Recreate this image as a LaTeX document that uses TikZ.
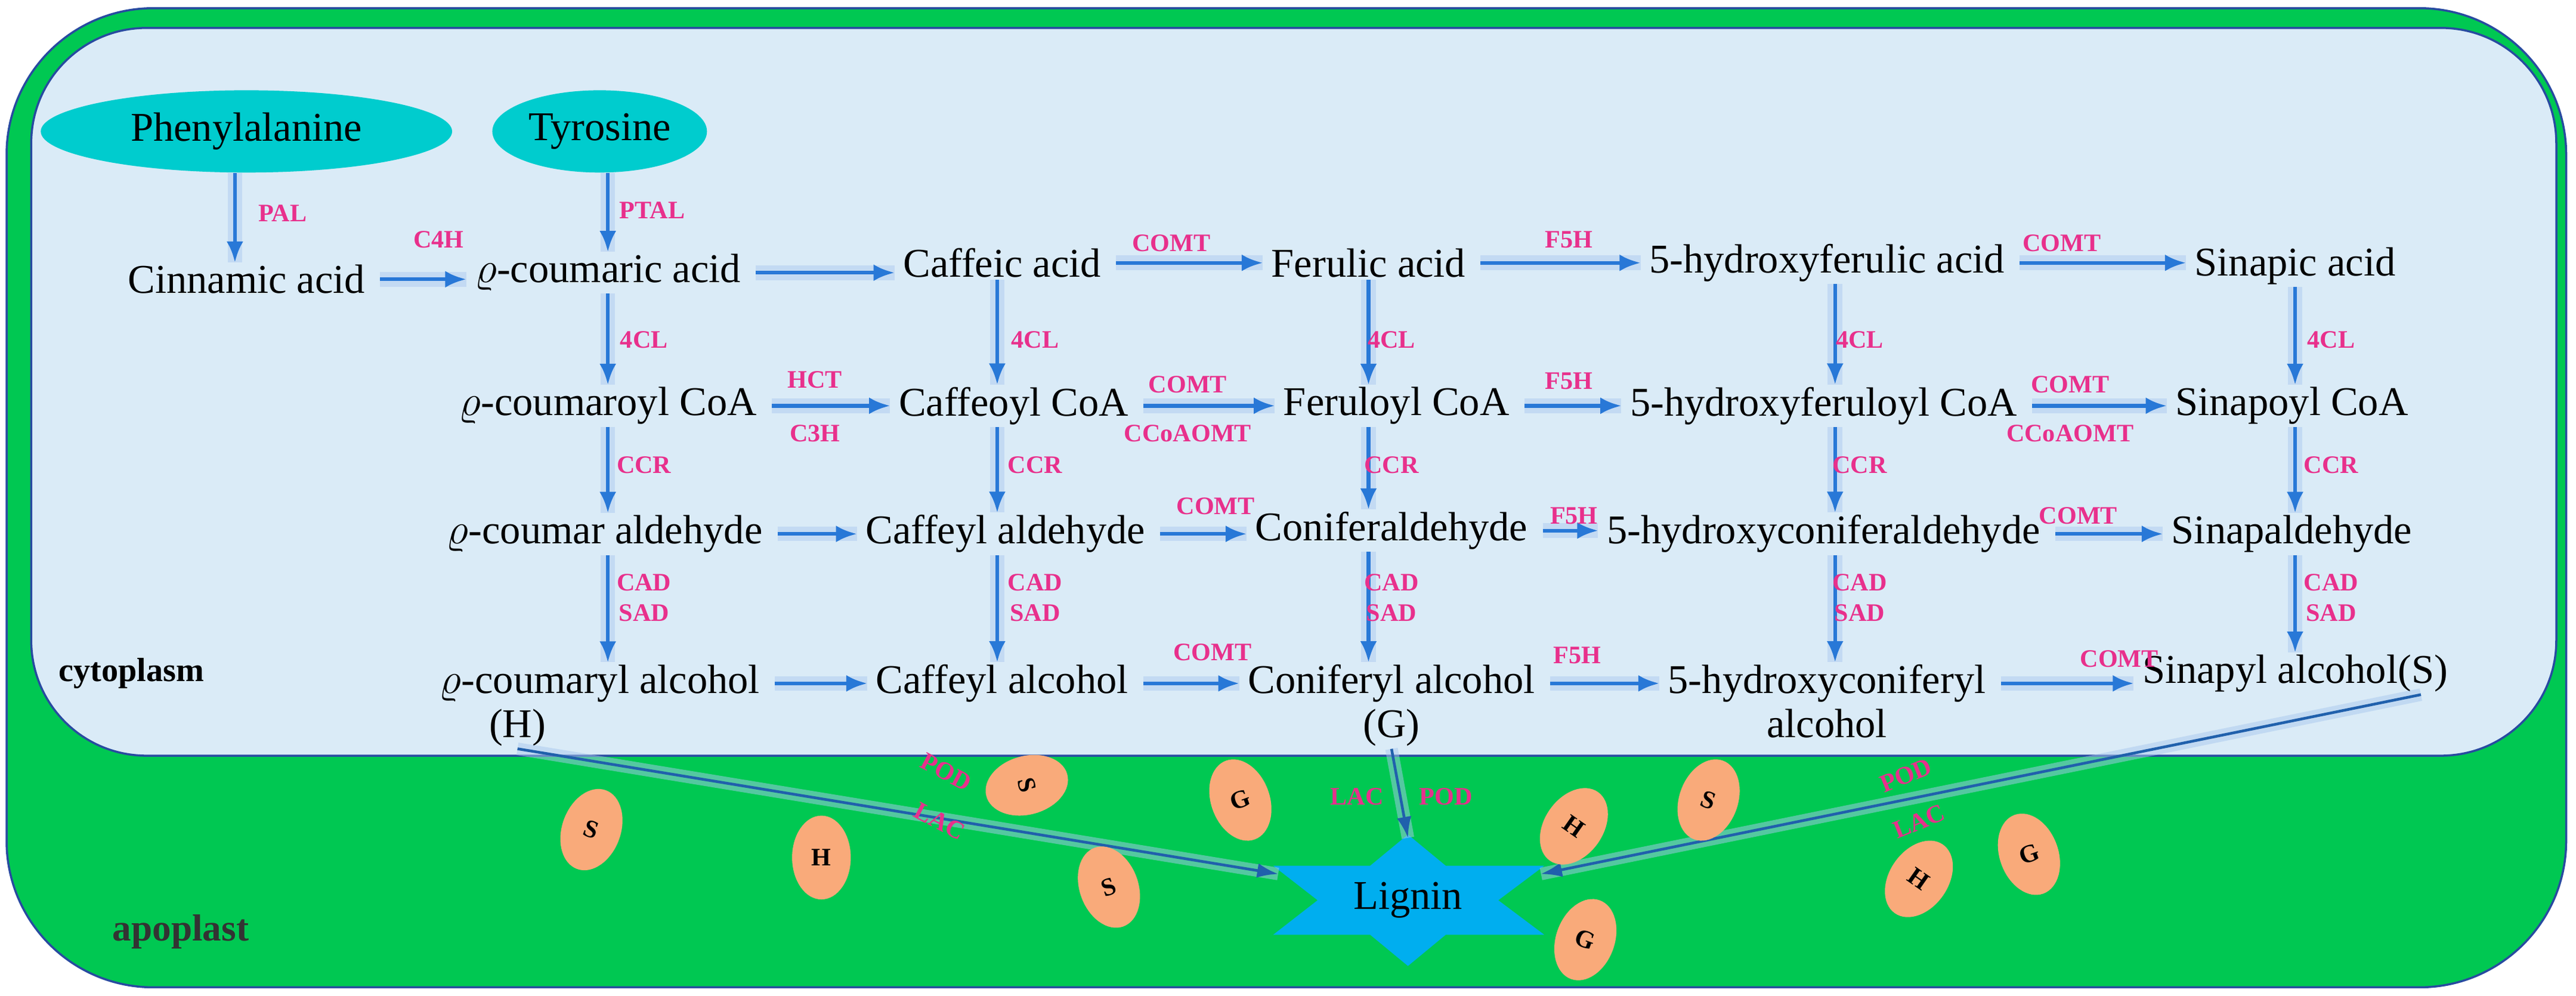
\documentclass[tikz,border=0pt]{standalone}
\usepackage{fontspec}
\setmainfont{Liberation Serif}
\usetikzlibrary{arrows.meta,shapes.geometric,positioning}
\definecolor{apogreen}{RGB}{0,200,82}
\definecolor{cytoblue}{RGB}{218,235,247}
\definecolor{rim}{RGB}{40,75,160}
\definecolor{aacyan}{RGB}{0,204,206}
\definecolor{enz}{RGB}{232,48,140}
\definecolor{flowblue}{RGB}{40,120,215}
\definecolor{peach}{RGB}{249,170,122}
\definecolor{stary}{RGB}{0,174,239}
\tikzset{
  met/.style={font=\fontsize{19.5}{22}\selectfont, inner sep=1pt, align=center},
  amino/.style={met, ellipse, fill=aacyan, minimum height=1.38cm},
  enzyme/.style={font=\fontsize{12}{14.5}\selectfont\bfseries, text=enz, inner sep=1pt, align=center},
  flow/.style={-{Latex[length=10pt,width=8pt]}, flowblue, line width=1.8pt,
    preaction={draw, line width=7pt, flowblue!35, opacity=0.6, -{}}},
  toward/.style={-{Latex[length=10pt,width=7pt]}, flowblue!80!black, line width=1.3pt,
    preaction={draw, line width=6pt, flowblue!40, opacity=0.5, -{}}},
  unit/.style={ellipse, fill=peach, minimum width=28pt, minimum height=40pt, inner sep=0pt,
    font=\fontsize{12}{13}\selectfont\bfseries}
}
\begin{document}
\begin{tikzpicture}[x=0.02755cm, y=-0.02755cm]
\useasboundingbox (0,0) rectangle (1568,606);

% compartments
\draw [rim, line width=1pt, fill=apogreen, rounded corners=70pt] (4,5) rectangle (1562,601);
\draw [rim, line width=1pt, fill=cytoblue, rounded corners=55pt] (19,17) rectangle (1556,460);

\node [font=\fontsize{16}{18}\selectfont\bfseries] at (80,410) {cytoplasm};
\node [font=\fontsize{18}{20}\selectfont\bfseries, text=black!80] at (110,567) {apoplast};

% amino acids
\node [amino, minimum width=6.9cm] (phe) at (150,80) {Phenylalanine};
\node [amino, minimum width=3.6cm] (tyr) at (365,80) {Tyrosine};

% acids
\node [met] (cin) at (150,170) {Cinnamic acid};
\node [met] (cou) at (370,166) {$\varrho$-coumaric acid};
\node [met] (caf) at (610,160) {Caffeic acid};
\node [met] (fer) at (833,160) {Ferulic acid};
\node [met] (hfer) at (1112,160) {5-hydroxyferulic acid};
\node [met] (sin) at (1397,162) {Sinapic acid};

% CoA esters
\node [met] (couc) at (370,247) {$\varrho$-coumaroyl CoA};
\node [met] (cafc) at (617,247) {Caffeoyl CoA};
\node [met] (ferc) at (850,247) {Feruloyl CoA};
\node [met] (hferc) at (1110,247) {5-hydroxyferuloyl CoA};
\node [met] (sinc) at (1395,247) {Sinapoyl CoA};

% aldehydes
\node [met] (coua) at (368,325) {$\varrho$-coumar aldehyde};
\node [met] (cafa) at (612,325) {Caffeyl aldehyde};
\node [met] (fera) at (847,323) {Coniferaldehyde};
\node [met] (hfera) at (1110,325) {5-hydroxyconiferaldehyde};
\node [met] (sina) at (1395,325) {Sinapaldehyde};

% alcohols
\node [met] (coul) at (365,416) {$\varrho$-coumaryl alcohol};
\node [met] (cafl) at (610,416) {Caffeyl alcohol};
\node [met] (ferl) at (847,416) {Coniferyl alcohol};
\node [met] (hferl) at (1112,416) {5-hydroxyconiferyl};
\node [met] (sinl) at (1397,410) {Sinapyl alcohol(S)};
\node [met] (hunit) at (315,443) {(H)};
\node [met, below=1pt of ferl] (gunit) {(G)};
\node [met, below=1pt of hferl] (hfer2) {alcohol};

% vertical steps
\foreach \a/\b/\x in {phe/cin/143, tyr/cou/370, cou/couc/370, caf/cafc/607, fer/ferc/833,
    hfer/hferc/1117, sin/sinc/1397, couc/coua/370, cafc/cafa/607, ferc/fera/833,
    hferc/hfera/1117, sinc/sina/1397, coua/coul/370, cafa/cafl/607, fera/ferl/833,
    hfera/hferl/1117, sina/sinl/1397} {
  \coordinate (col) at (\x,0);
  \draw [flow] (\a.south -| col) -- (\b.north -| col);
}

% horizontal steps
\foreach \a/\b in {cin/cou, cou/caf, caf/fer, fer/hfer, hfer/sin,
    couc/cafc, cafc/ferc, ferc/hferc, hferc/sinc,
    coua/cafa, cafa/fera, fera/hfera, hfera/sina,
    coul/cafl, cafl/ferl, ferl/hferl, hferl/sinl}
  \draw [flow, shorten <=6pt, shorten >=3pt] (\a.east) -- (\b.west |- \a.east);

% enzymes
\node [enzyme] at (172,130) {PAL};
\node [enzyme] at (267,146) {C4H};
\node [enzyme] at (397,128) {PTAL};
\node [enzyme] at (713,148) {COMT};
\node [enzyme] at (955,146) {F5H};
\node [enzyme] at (1255,148) {COMT};
\foreach \x in {392,630,847,1132,1419} {
  \node [enzyme] at (\x,207) {4CL};
  \node [enzyme] at (\x,283) {CCR};
  \node [enzyme] at (\x,364) {CAD\\SAD};
}
\node [enzyme] at (496,231) {HCT};
\node [enzyme] at (496,264) {C3H};
\node [enzyme] at (723,234) {COMT};
\node [enzyme] at (723,264) {CCoAOMT};
\node [enzyme] at (955,232) {F5H};
\node [enzyme] at (1260,234) {COMT};
\node [enzyme] at (1260,264) {CCoAOMT};
\node [enzyme] at (740,308) {COMT};
\node [enzyme] at (958,314) {F5H};
\node [enzyme] at (1265,314) {COMT};
\node [enzyme] at (738,397) {COMT};
\node [enzyme] at (960,399) {F5H};
\node [enzyme] at (1290,401) {COMT};

% lignin
\fill [stary] (857,508) -- (880,527) -- (940,527) -- (912,548) -- (940,569) -- (880,569)
  -- (857,588) -- (834,569) -- (775,569) -- (802,548) -- (775,527) -- (834,527) -- cycle;
\node [met] (lig) at (857,548) {Lignin};
\coordinate (ligw) at (778,532);
\coordinate (lign) at (857,510);
\coordinate (lige) at (938,532);
\draw [toward] (hunit.south) -- (ligw);
\draw [toward] (gunit.south) -- (lign);
\draw [toward] ([xshift=-14pt]sinl.south east) -- (lige);

\node [enzyme, rotate=-28] at (576,470) {POD};
\node [enzyme, rotate=-28] at (572,500) {LAC};
\node [enzyme] at (826,485) {LAC};
\node [enzyme] at (880,485) {POD};
\node [enzyme, rotate=22] at (1160,472) {POD};
\node [enzyme, rotate=22] at (1168,500) {LAC};

% monolignol units
\foreach \x/\y/\r/\t in {360/505/-20/S, 500/522/0/H, 625/478/-75/S, 675/540/20/S,
    755/487/20/G, 965/572/-20/G, 958/503/-35/H, 1040/487/-20/S, 1168/535/-35/H, 1235/520/20/G}
  \node [unit, rotate=\r] at (\x,\y) {\t};
\end{tikzpicture}
\end{document}
